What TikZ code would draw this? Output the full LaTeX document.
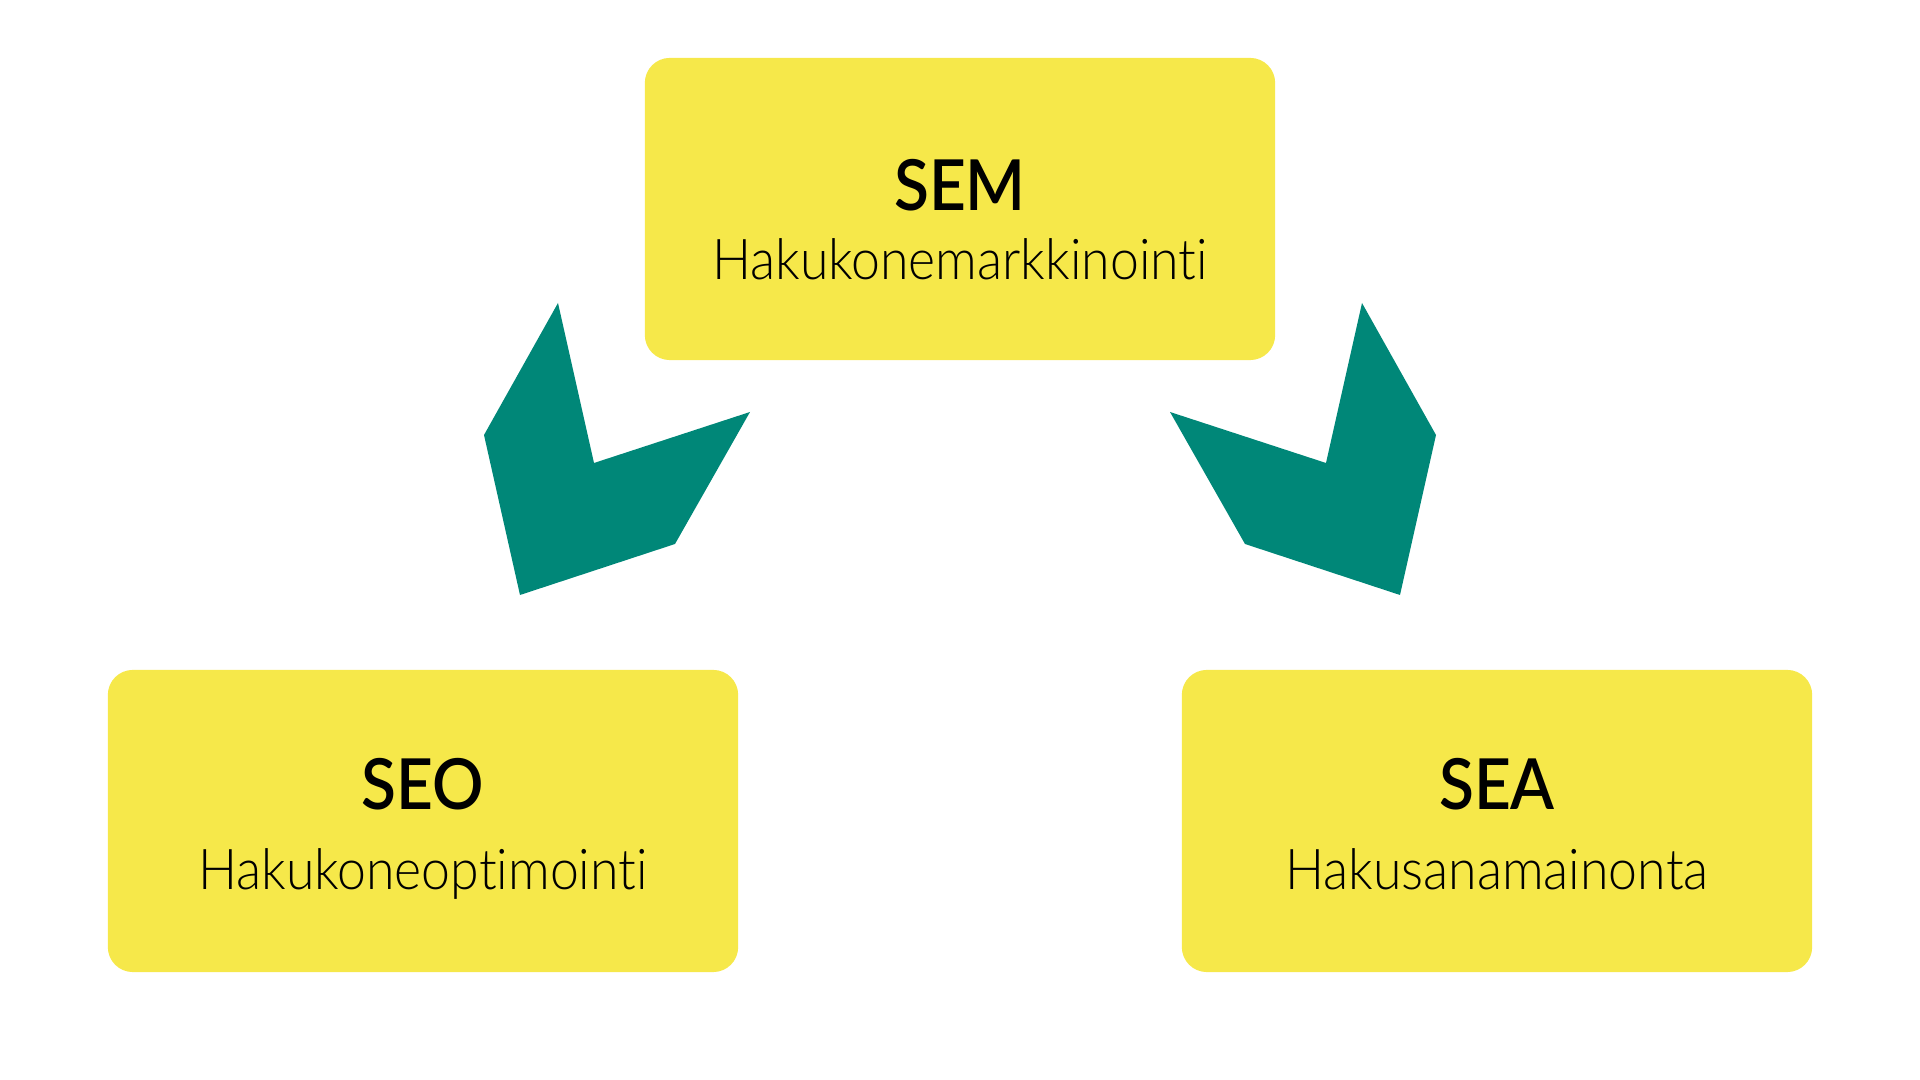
\documentclass[tikz,border=0pt]{standalone}
\usepackage{fontspec}
\setmainfont{Lato}
\newfontfamily\lightfont[Ligatures=NoCommon,FakeStretch=0.92]{Lato Light}
\newfontfamily\titlefont[FakeStretch=0.91]{Lato Semibold}
\definecolor{boxyellow}{HTML}{F6E84A}
\definecolor{arrowgreen}{HTML}{008778}
\tikzset{
  termbox/.style={fill=boxyellow,rounded corners=0.25cm,minimum width=6.3cm,minimum height=3.02cm,inner sep=0pt},
  termtitle/.style={anchor=base,inner sep=0pt,font=\fontsize{20}{24}\selectfont\titlefont},
  termsub/.style={anchor=base,inner sep=0pt,font=\fontsize{16}{19}\selectfont\lightfont},
  chevron/.style={fill=arrowgreen}
}
\begin{document}
\begin{tikzpicture}[x=0.01cm,y=-0.01cm,line join=miter]
    \useasboundingbox (0,0) rectangle (1920,1080);
    % boxes
    \node[termbox] (sem) at (960,209) {};
    \node[termbox] (seo) at (423,821) {};
    \node[termbox] (sea) at (1497,821) {};
    % texts
    \node[termtitle] (semtitle) at (960,211) {SEM};
    \node[termsub] (semsub) at (960,280) {Hakukonemarkkinointi};
    \node[termtitle] (seotitle) at (423,810) {SEO};
    \node[termsub] (seosub) at (423,890) {Hakukoneoptimointi};
    \node[termtitle] (seatitle) at (1497,810) {SEA};
    \node[termsub] (seasub) at (1497,890) {Hakusanamainonta};
    % arrows
    \fill[chevron] (558,303) -- (594,463) -- (750,412) -- (675,544)
      -- (520,595) -- (484,435) -- cycle;
    \fill[chevron] (1362,303) -- (1326,463) -- (1170,412) -- (1245,544)
      -- (1400,595) -- (1436,435) -- cycle;
\end{tikzpicture}
\end{document}
